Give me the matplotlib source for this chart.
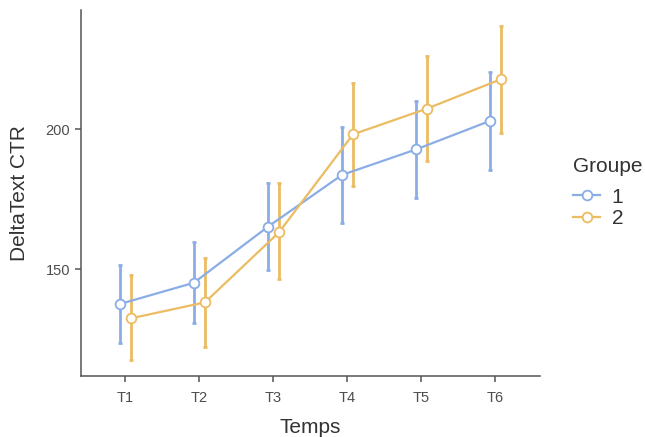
import matplotlib
matplotlib.use("Agg")
import matplotlib.pyplot as plt
import numpy as np

times = ["T1", "T2", "T3", "T4", "T5", "T6"]
g1_mean = [137.6, 145.2, 165.2, 183.7, 192.8, 203.0]
g1_low = [123.6, 131.0, 149.7, 166.6, 175.4, 185.5]
g1_high = [151.5, 159.7, 180.9, 200.9, 210.2, 220.5]
g2_mean = [132.5, 138.2, 163.2, 198.2, 207.4, 217.9]
g2_low = [117.6, 122.4, 146.4, 179.8, 188.7, 198.6]
g2_high = [148.0, 154.0, 180.7, 216.5, 226.2, 237.0]
groups = ["1", "2"]
colors = ["#8AADE6", "#EBBC62"]

plt.rcParams['font.family'] = ['Liberation Sans', 'DejaVu Sans']

fig = plt.figure(figsize=(6.45, 4.37), dpi=100)
ax = fig.add_axes([0.1256, 0.1396, 0.837 - 0.1256, 0.977 - 0.1396])

x = np.arange(1, len(times) + 1)
data = [(g1_mean, g1_low, g1_high), (g2_mean, g2_low, g2_high)]
offsets = [-0.075, 0.075]
handles = []
for (m, lo, hi), off, col, lab in zip(data, offsets, colors, groups):
    m = np.array(m); lo = np.array(lo); hi = np.array(hi)
    xs = x + off
    ax.errorbar(xs, m, yerr=[m - lo, hi - m], fmt='none', ecolor=col,
                elinewidth=2.0, capsize=1.5, capthick=2.0, zorder=2)
    h, = ax.plot(xs, m, color=col, lw=1.6, marker='o', markersize=7,
                 markerfacecolor='white', markeredgecolor=col,
                 markeredgewidth=1.3, zorder=3, label=lab)
    handles.append(h)

ax.set_xlim(0.4, 6.6)
ax.set_ylim(111.9, 242.6)
ax.set_xticks(x)
ax.set_xticklabels(times)
ax.set_yticks([150, 200])

for s in ['top', 'right']:
    ax.spines[s].set_visible(False)
for s in ['left', 'bottom']:
    ax.spines[s].set_color('#555555')
    ax.spines[s].set_linewidth(1.1)
ax.tick_params(axis='both', colors='#555555', length=4, width=1.1,
               labelsize=10.5, labelcolor='#4d4d4d')
ax.tick_params(axis='x', pad=6.5)
ax.tick_params(axis='y', pad=4)

ax.set_xlabel("Temps", fontsize=15, color='#333333', labelpad=10)
ax.set_ylabel("DeltaText CTR", fontsize=15, color='#333333', labelpad=12)

fig.text(573 / 645, 1 - 166 / 437, "Groupe", fontsize=15, color='#333333',
         ha='left', va='center')
leg = fig.legend(handles=handles, labels=groups,
                 loc='center left', bbox_to_anchor=(0.866, 1 - 208 / 437),
                 frameon=False, fontsize=15,
                 handlelength=1.3, handletextpad=0.55, labelspacing=0.12,
                 borderpad=0.2)
for t in leg.get_texts():
    t.set_color('#333333')

fig.savefig("out.png", dpi=100)
